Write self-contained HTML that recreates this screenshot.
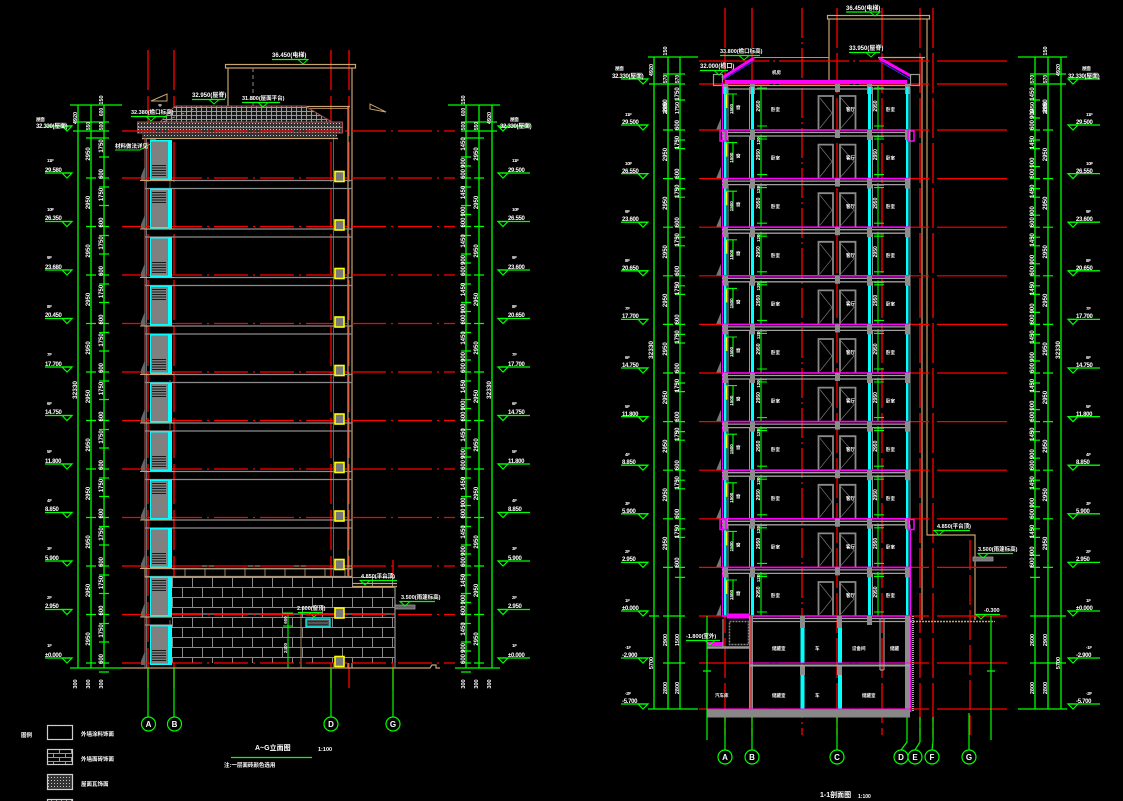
<!DOCTYPE html>
<html><head><meta charset="utf-8"><style>
html,body{margin:0;padding:0;background:#000;}
svg{display:block}
text{font-family:"Liberation Sans","Noto Sans CJK SC",sans-serif;fill:#fff;font-weight:bold}
.lv{font-size:6px;letter-spacing:-0.3px}
.fl{font-size:4.5px}
</style></head><body>
<svg width="1123" height="801" viewBox="0 0 1123 801" xmlns="http://www.w3.org/2000/svg">
<defs>
 <pattern id="brick" width="20" height="20" patternUnits="userSpaceOnUse" x="172" y="577">
  <rect width="20" height="20" fill="#000"/>
  <path d="M0 0.5H20M0 10.5H20M0.5 0V10M10.5 10V20" stroke="#8a8a8a" stroke-width="1" fill="none"/>
 </pattern>
 <pattern id="brick2" width="12" height="8" patternUnits="userSpaceOnUse" x="47" y="749">
  <rect width="12" height="8" fill="#000"/>
  <path d="M0 0.5H12M0 4.5H12M0.5 0V4M6.5 4V8" stroke="#999" stroke-width="1" fill="none"/>
 </pattern>
 <pattern id="dots" width="3" height="3" patternUnits="userSpaceOnUse">
  <rect width="3" height="3" fill="#333"/><rect width="1" height="1" fill="#c8c8c8"/>
 </pattern>
 <pattern id="tile" width="5" height="4" patternUnits="userSpaceOnUse">
  <rect width="5" height="4" fill="#151515"/><path d="M1.5 0V3M0 3.5H5" stroke="#9a9a9a" stroke-width="1"/>
 </pattern>
 <g id="lwb">
  <rect x="150" y="-38" width="22" height="40" fill="#00ffff"/>
  <rect x="151" y="-36.5" width="17" height="37" fill="#808080"/>
  <path d="M152 -12.5H166M152 -10H166M152 -7.5H166M152 -5H166M152 -2.5H166" stroke="#1a1a1a" stroke-width="0.9"/>
  <rect x="335" y="-6.5" width="9" height="10" fill="#777" stroke="#ff0" stroke-width="1.6"/>
  <path d="M141 -2L145 -12V2H141Z" fill="#666"/>
 </g>
 <g id="lwt">
  <rect x="150" y="-38" width="22" height="40" fill="#00ffff"/>
  <rect x="151" y="-36.5" width="17" height="37" fill="#808080"/>
  <path d="M152 -34H166M152 -31.5H166M152 -29H166M152 -26.5H166M152 -24H166" stroke="#1a1a1a" stroke-width="0.9"/>
  <rect x="335" y="-6.5" width="9" height="10" fill="#777" stroke="#ff0" stroke-width="1.6"/>
  <path d="M141 -2L145 -12V2H141Z" fill="#666"/>
 </g>
 <g id="lred"><path d="M122 0H455" stroke="#f00" stroke-width="1.3" stroke-dasharray="34 5 2 5"/></g>
 <g id="lg"><path d="M145 2.5H352M145 10.5H352" stroke="#8c8c8c" stroke-width="1.2"/><path d="M140 2.5H174" stroke="#c8a46e" stroke-width="1"/></g>
 <g id="ldim">
  <path d="M86 0H96M99 0H109M99 -21H109M99 9H109M461 0H471M474 0H484M461 -21H471M461 -12H471M461 9H471" stroke="#0f0" stroke-width="1.2"/>
  <text transform="translate(90,-24) rotate(-90)" text-anchor="middle" font-size="6">2950</text>
  <text transform="translate(103,-32) rotate(-90)" text-anchor="middle" font-size="6">1750</text>
  <text transform="translate(103,-4) rotate(-90)" text-anchor="middle" font-size="6">600</text>
  <text transform="translate(465,-34) rotate(-90)" text-anchor="middle" font-size="6">1450</text>
  <text transform="translate(465,-15) rotate(-90)" text-anchor="middle" font-size="6">900</text>
  <text transform="translate(465,-4) rotate(-90)" text-anchor="middle" font-size="6">600</text>
  <text transform="translate(478,-24) rotate(-90)" text-anchor="middle" font-size="6">2950</text>
 </g>
 <g id="mkL"><path d="M-22 -5H5" stroke="#0f0" stroke-width="1.3"/><path d="M-5 -5L5 -5L0 0Z" fill="none" stroke="#0f0" stroke-width="1.2"/></g>
 <g id="mkR"><path d="M-5 -5H27" stroke="#0f0" stroke-width="1.3"/><path d="M-5 -5L5 -5L0 0Z" fill="none" stroke="#0f0" stroke-width="1.2"/></g>
 <g id="ss">
  <rect x="724" y="-43" width="2.5" height="43" fill="#0ff"/>
  <rect x="751" y="-43" width="3" height="43" fill="#0ff"/>
  <rect x="868" y="-43" width="3" height="43" fill="#0ff"/>
  <rect x="906" y="-43" width="2.5" height="43" fill="#0ff"/>
  <path d="M728 -43V0M749.5 -43V0M872.5 -43V0M910 -43V0" stroke="#999" stroke-width="1"/>
  <path d="M818.5 0V-34H833V0M840 0V-34H855.5V0" stroke="#8a8a8a" stroke-width="1.8" fill="none"/>
  <path d="M820 -32L832 -17L820 -2M841 -32L854 -17L841 -2" stroke="#777" stroke-width="0.7" fill="none"/>
  <path d="M761 -44V0M878 -44V0" stroke="#0f0" stroke-width="1.1"/>
  <path d="M757 -42H767M757 -4H767M874 -42H884M874 -4H884" stroke="#0f0" stroke-width="1.1"/>
  <path d="M726.5 -36V-22" stroke="#ff0" stroke-width="1.5"/>
  <path d="M726 -36H737M733 -36V-16" stroke="#0f0" stroke-width="1.1"/>
  <path d="M716 0L721 -12V0Z" fill="#777"/>
  <path d="M722.5 -48V0" stroke="#f0f" stroke-width="1"/>
  <text transform="translate(760,-24) rotate(-90)" text-anchor="middle" font-size="5">2950</text>
  <text transform="translate(877,-24) rotate(-90)" text-anchor="middle" font-size="5">2950</text>
  <text transform="translate(733,-21) rotate(-90)" text-anchor="middle" font-size="4.5">1500</text>
  <text x="736" y="-21" font-size="4.5">窗</text>
  <text x="771" y="-19" font-size="4.5">卧室</text>
  <text x="846" y="-19" font-size="4.5">客厅</text>
  <text x="886" y="-19" font-size="4.5">卧室</text>
 </g>
 <g id="sl">
  <path d="M699 0H930M937 0H1007" stroke="#f00" stroke-width="1.2" stroke-dasharray="70 4 2 4"/>
  <path d="M722 0H910" stroke="#f0f" stroke-width="1.6"/>
  <path d="M722 2.5H910M722 6H910" stroke="#a0a0a0" stroke-width="1.3"/>
  <path d="M723 0h5v10h-5zM750 0h5v10h-5zM835 0h5v8h-5zM867 0h5v10h-5zM905 0h5v10h-5z" fill="#8c8c8c"/>
  <path d="M757 9H767M874 9H884" stroke="#0f0" stroke-width="1.1"/>
  <text transform="translate(760,11) rotate(-90)" text-anchor="middle" font-size="4.5">120</text>
 </g>
 <g id="sdim">
  <path d="M663 0H673M675 0H685M675 -30H685M675 10H685M1030 0H1040M1030 -30H1040M1030 -12H1040M1030 10H1040M1043 0H1053" stroke="#0f0" stroke-width="1.2"/>
  <text transform="translate(667,-24) rotate(-90)" text-anchor="middle" font-size="6">2950</text>
  <text transform="translate(679,-36) rotate(-90)" text-anchor="middle" font-size="6">1750</text>
  <text transform="translate(679,-5) rotate(-90)" text-anchor="middle" font-size="6">600</text>
  <text transform="translate(1034,-36) rotate(-90)" text-anchor="middle" font-size="6">1450</text>
  <text transform="translate(1034,-16) rotate(-90)" text-anchor="middle" font-size="6">900</text>
  <text transform="translate(1034,-5) rotate(-90)" text-anchor="middle" font-size="6">600</text>
  <text transform="translate(1047,-24) rotate(-90)" text-anchor="middle" font-size="6">2950</text>
 </g>
</defs>

<rect width="1123" height="801" fill="#000"/>

<!-- ================= LEFT ELEVATION ================= -->
<path d="M78 105V668M91 105V668M104 105V668M466 105V668M479 105V668M492 105V668" stroke="#0f0" stroke-width="1.3"/>
<path d="M70 105H122M448 105H500M70 668H122M455 668H500" stroke="#0f0" stroke-width="1.3"/>
<path d="M73 131H109M461 131H497M73 122H109M461 122H497M86 138H109M461 138H484" stroke="#0f0" stroke-width="1.2"/>
<text transform="translate(77,390) rotate(-90)" text-anchor="middle" font-size="6.5">32330</text>
<text transform="translate(491,390) rotate(-90)" text-anchor="middle" font-size="6.5">32330</text>
<text transform="translate(77,118) rotate(-90)" text-anchor="middle" font-size="5.5">4920</text>
<text transform="translate(491,118) rotate(-90)" text-anchor="middle" font-size="5.5">4920</text>
<text transform="translate(103,100) rotate(-90)" text-anchor="middle" font-size="5.5">150</text>
<text transform="translate(465,100) rotate(-90)" text-anchor="middle" font-size="5.5">150</text>
<text transform="translate(90,126) rotate(-90)" text-anchor="middle" font-size="5">550</text>
<text transform="translate(103,126) rotate(-90)" text-anchor="middle" font-size="5">500</text>
<text transform="translate(103,112) rotate(-90)" text-anchor="middle" font-size="5">600</text>
<text transform="translate(478,126) rotate(-90)" text-anchor="middle" font-size="5">550</text>
<text transform="translate(465,126) rotate(-90)" text-anchor="middle" font-size="5">500</text>
<text transform="translate(465,112) rotate(-90)" text-anchor="middle" font-size="5">600</text>
<text transform="translate(77,684) rotate(-90)" text-anchor="middle" font-size="5.5">300</text>
<text transform="translate(90,684) rotate(-90)" text-anchor="middle" font-size="5.5">300</text>
<text transform="translate(103,684) rotate(-90)" text-anchor="middle" font-size="5.5">300</text>
<text transform="translate(465,684) rotate(-90)" text-anchor="middle" font-size="5.5">300</text>
<text transform="translate(478,684) rotate(-90)" text-anchor="middle" font-size="5.5">300</text>
<text transform="translate(491,684) rotate(-90)" text-anchor="middle" font-size="5.5">300</text>
<use href="#ldim" y="178"/><use href="#ldim" y="226.5"/><use href="#ldim" y="275"/><use href="#ldim" y="323.5"/>
<use href="#ldim" y="372"/><use href="#ldim" y="420.5"/><use href="#ldim" y="469"/><use href="#ldim" y="517.5"/>
<use href="#ldim" y="566"/><use href="#ldim" y="614.5"/><use href="#ldim" y="663"/>

<path d="M148 50V690M174 50V690M331 50V690M349 50V690M393 560V690" stroke="#f00" stroke-width="1.3" stroke-dasharray="40 6"/>

<rect x="225.5" y="64.5" width="130" height="3.5" fill="none" stroke="#c8a46e" stroke-width="1.2"/>
<path d="M228 68V106M348 106V668M352 68V668" stroke="#c8a46e" stroke-width="1.2"/>
<path d="M253 68V106" stroke="#888" stroke-width="1" stroke-dasharray="4 3"/>
<path d="M305 106.5H350" stroke="#c8a46e" stroke-width="1.2"/>
<path d="M305 108.5H348" stroke="#c8a46e" stroke-width="0.8"/>
<path d="M333.5 131V668" stroke="#a04848" stroke-width="1"/>
<path d="M170 140V663" stroke="#c8a46e" stroke-width="0.6" stroke-dasharray="10 30"/>

<polygon points="160,122 175,106 305,106 332,122" fill="url(#tile)" stroke="#a05050" stroke-width="1"/>
<rect x="137.5" y="122" width="205" height="11" fill="url(#dots)" stroke="#a05050" stroke-width="1"/>
<path d="M138 127.5H342" stroke="#c8a46e" stroke-width="0.8"/>
<rect x="142" y="133" width="195" height="4.5" fill="url(#dots)"/>
<path d="M142 138.5H338" stroke="#c8a46e" stroke-width="1.2"/>
<path d="M163 122L201 106" stroke="#c8a46e" stroke-width="0.7" stroke-dasharray="3 2"/>
<use href="#lred" y="131"/>
<path d="M145 138V668" stroke="#a05050" stroke-width="1.2"/>
<path d="M146.5 138V668" stroke="#888" stroke-width="0.8"/>
<rect x="150" y="139" width="6" height="6" fill="#f0f"/>
<path d="M115 150H140L152 143" stroke="#0f0" stroke-width="1" fill="none"/>
<text x="115" y="148" font-size="5.5">材料做法详见</text>
<path d="M151 101L167 94V101Z" fill="none" stroke="#c8a46e" stroke-width="1"/>
<path d="M158 105H162M160 104V107" stroke="#fff" stroke-width="0.8"/>
<path d="M370 104V109L386 112Z" fill="none" stroke="#c8a46e" stroke-width="1"/>
<path d="M272 59.5H307" stroke="#0f0" stroke-width="1.2"/><path d="M298 59.5L308 59.5L303 64Z" fill="none" stroke="#0f0"/>
<text x="272" y="57" font-size="6">36.450(电梯)</text>
<path d="M192 99.5H225" stroke="#0f0" stroke-width="1.2"/><path d="M209 99.5L219 99.5L214 104Z" fill="none" stroke="#0f0"/>
<text x="192" y="97" font-size="6">32.950(屋脊)</text>
<path d="M242 102.5H280" stroke="#0f0" stroke-width="1.2"/><path d="M258 102.5L268 102.5L263 107Z" fill="none" stroke="#0f0"/>
<text x="242" y="100" font-size="5.5">31.800(屋面平台)</text>
<path d="M131 116.5H167" stroke="#0f0" stroke-width="1.2"/><path d="M146 116.5L156 116.5L151 121Z" fill="none" stroke="#0f0"/>
<text x="131" y="114" font-size="5.5">32.380(檐口标高)</text>

<use href="#lg" y="178"/><use href="#lg" y="226.5"/><use href="#lg" y="275"/><use href="#lg" y="323.5"/>
<use href="#lg" y="372"/><use href="#lg" y="420.5"/><use href="#lg" y="469"/><use href="#lg" y="517.5"/>
<use href="#lg" y="566"/><use href="#lg" y="614.5"/>

<rect x="172" y="577" width="223" height="86" fill="url(#brick)"/>
<rect x="145" y="566" width="207" height="11" fill="none" stroke="#c8a46e" stroke-width="1"/>
<path d="M172 569H352M185 569V577M205 569V577M225 569V577M245 569V577M265 569V577M285 569V577M305 569V577M325 569V577M345 569V577" stroke="#c8a46e" stroke-width="0.8"/>
<path d="M352 583.5H397M352 586.5H397" stroke="#c8a46e" stroke-width="1.2"/>
<path d="M395 586V663" stroke="#888" stroke-width="1.3"/>
<rect x="395" y="605" width="20" height="4" fill="#666" stroke="#999" stroke-width="0.8"/>
<path d="M172 614H395" stroke="#888" stroke-width="1.2"/>
<rect x="306" y="619" width="24" height="8" fill="#555" stroke="#0ff" stroke-width="1.3"/>
<path d="M308 621.5H328M308 624.5H328" stroke="#222" stroke-width="0.8"/>
<path d="M298 612.5H322" stroke="#0f0" stroke-width="1.2"/><path d="M309 612.5L319 612.5L314 617Z" fill="none" stroke="#0f0"/>
<text x="297" y="610" font-size="5.5">2.600(窗顶)</text>
<path d="M288 613V668M283 613H293M283 626H293M283 668H293" stroke="#0f0" stroke-width="1.1"/>
<text transform="translate(287,620) rotate(-90)" text-anchor="middle" font-size="4.5">600</text>
<text transform="translate(287,648) rotate(-90)" text-anchor="middle" font-size="4.5">2400</text>
<path d="M301 613V668" stroke="#c8a46e" stroke-width="0.8"/>
<path d="M360 580.5H397" stroke="#0f0" stroke-width="1.2"/><path d="M360 580.5L370 580.5L365 585Z" fill="none" stroke="#0f0"/>
<text x="361" y="578" font-size="5.5">4.850(平台顶)</text>
<path d="M400 601.5H435" stroke="#0f0" stroke-width="1.2"/><path d="M400 601.5L410 601.5L405 606Z" fill="none" stroke="#0f0"/>
<text x="401" y="599" font-size="5.5">3.500(雨篷标高)</text>

<use href="#lred" y="178"/><use href="#lred" y="226.5"/><use href="#lred" y="275"/><use href="#lred" y="323.5"/>
<use href="#lred" y="372"/><use href="#lred" y="420.5"/><use href="#lred" y="469"/><use href="#lred" y="517.5"/>
<use href="#lred" y="566"/><use href="#lred" y="614.5"/><use href="#lred" y="663"/>
<use href="#lwb" y="178"/><use href="#lwt" y="226.5"/><use href="#lwb" y="275"/><use href="#lwt" y="323.5"/>
<use href="#lwb" y="372"/><use href="#lwt" y="420.5"/><use href="#lwb" y="469"/><use href="#lwt" y="517.5"/>
<use href="#lwb" y="566"/><use href="#lwt" y="614.5"/><use href="#lwb" y="663"/>

<path d="M122 668H430L432 665H436V668H440" stroke="#c8a46e" stroke-width="1.2" fill="none"/>
<path d="M395 663V668" stroke="#888"/>

<g class="lv">
<use href="#mkL" x="67" y="131"/><text class="fl" x="36" y="121">屋面</text><text x="36" y="128">32.330(屋面)</text>
<use href="#mkL" x="67" y="178"/><text class="fl" x="47" y="162">11F</text><text x="45" y="172">29.580</text>
<use href="#mkL" x="67" y="226.5"/><text class="fl" x="47" y="211">10F</text><text x="45" y="220">26.350</text>
<use href="#mkL" x="67" y="275"/><text class="fl" x="47" y="259">9F</text><text x="45" y="269">23.680</text>
<use href="#mkL" x="67" y="323.5"/><text class="fl" x="47" y="308">8F</text><text x="45" y="317">20.450</text>
<use href="#mkL" x="67" y="372"/><text class="fl" x="47" y="356">7F</text><text x="45" y="366">17.700</text>
<use href="#mkL" x="67" y="420.5"/><text class="fl" x="47" y="405">6F</text><text x="45" y="414">14.750</text>
<use href="#mkL" x="67" y="469"/><text class="fl" x="47" y="453">5F</text><text x="45" y="463">11.800</text>
<use href="#mkL" x="67" y="517.5"/><text class="fl" x="47" y="502">4F</text><text x="45" y="511">8.850</text>
<use href="#mkL" x="67" y="566"/><text class="fl" x="47" y="550">3F</text><text x="45" y="560">5.900</text>
<use href="#mkL" x="67" y="614.5"/><text class="fl" x="47" y="599">2F</text><text x="45" y="608">2.950</text>
<use href="#mkL" x="67" y="663"/><text class="fl" x="47" y="647">1F</text><text x="45" y="657">±0.000</text>
<use href="#mkR" x="503" y="131"/><text class="fl" x="510" y="121">屋面</text><text x="500" y="128">32.330(屋面)</text>
<use href="#mkR" x="503" y="178"/><text class="fl" x="512" y="162">11F</text><text x="508" y="172">29.500</text>
<use href="#mkR" x="503" y="226.5"/><text class="fl" x="512" y="211">10F</text><text x="508" y="220">26.550</text>
<use href="#mkR" x="503" y="275"/><text class="fl" x="512" y="259">9F</text><text x="508" y="269">23.600</text>
<use href="#mkR" x="503" y="323.5"/><text class="fl" x="512" y="308">8F</text><text x="508" y="317">20.650</text>
<use href="#mkR" x="503" y="372"/><text class="fl" x="512" y="356">7F</text><text x="508" y="366">17.700</text>
<use href="#mkR" x="503" y="420.5"/><text class="fl" x="512" y="405">6F</text><text x="508" y="414">14.750</text>
<use href="#mkR" x="503" y="469"/><text class="fl" x="512" y="453">5F</text><text x="508" y="463">11.800</text>
<use href="#mkR" x="503" y="517.5"/><text class="fl" x="512" y="502">4F</text><text x="508" y="511">8.850</text>
<use href="#mkR" x="503" y="566"/><text class="fl" x="512" y="550">3F</text><text x="508" y="560">5.900</text>
<use href="#mkR" x="503" y="614.5"/><text class="fl" x="512" y="599">2F</text><text x="508" y="608">2.950</text>
<use href="#mkR" x="503" y="663"/><text class="fl" x="512" y="647">1F</text><text x="508" y="657">±0.000</text>
</g>

<path d="M148 668V717M174 668V717M331 668V717M393 668V717" stroke="#0f0" stroke-width="1.2"/>
<g fill="none" stroke="#0f0" stroke-width="1.2">
<circle cx="148.5" cy="724" r="7"/><circle cx="174.5" cy="724" r="7"/><circle cx="331" cy="724" r="7"/><circle cx="393" cy="724" r="7"/>
</g>
<g font-size="8" font-weight="normal" text-anchor="middle">
<text x="148.5" y="727">A</text><text x="174.5" y="727">B</text><text x="331" y="727">D</text><text x="393" y="727">G</text>
</g>
<text x="255" y="750" font-size="7">A~G立面图</text>
<text x="318" y="751" font-size="5.5">1:100</text>
<path d="M231 757.5H312" stroke="#0f0" stroke-width="1.2"/>
<text x="224" y="767" font-size="5.5">注:一层面砖颜色选用</text>

<text x="21" y="737" font-size="5.5">图例</text>
<rect x="47.5" y="725.5" width="25" height="14" fill="none" stroke="#ccc" stroke-width="1.2"/>
<rect x="47.5" y="749.5" width="25" height="15" fill="url(#brick2)" stroke="#ccc" stroke-width="1.2"/>
<rect x="47.5" y="774.5" width="25" height="15" fill="url(#dots)" stroke="#ccc" stroke-width="1.2"/>
<rect x="47.5" y="799.5" width="25" height="5" fill="url(#tile)" stroke="#ccc" stroke-width="1.2"/>
<text x="81" y="736" font-size="5.5">外墙涂料饰面</text>
<text x="81" y="761" font-size="5.5">外墙面砖饰面</text>
<text x="81" y="786" font-size="5.5">屋面瓦饰面</text>

<!-- ================= SECTION 1-1 ================= -->
<path d="M654 57V709M668 57V709M680 57V709M1035 57V709M1048 57V709M1061 57V709" stroke="#0f0" stroke-width="1.3"/>
<path d="M648 57H698M1018 57H1067M648 709H698M1018 709H1067" stroke="#0f0" stroke-width="1.3"/>
<path d="M649 84H685M1030 84H1066M663 74H685M1030 74H1066M663 663H685M1030 663H1066M663 616H685M1030 616H1066M649 616H659M1056 616H1066" stroke="#0f0" stroke-width="1.2"/>
<text transform="translate(653,70) rotate(-90)" text-anchor="middle" font-size="5.5">4920</text>
<text transform="translate(1060,70) rotate(-90)" text-anchor="middle" font-size="5.5">4920</text>
<text transform="translate(653,350) rotate(-90)" text-anchor="middle" font-size="6.5">32330</text>
<text transform="translate(1060,350) rotate(-90)" text-anchor="middle" font-size="6.5">32330</text>
<text transform="translate(653,663) rotate(-90)" text-anchor="middle" font-size="5.5">5700</text>
<text transform="translate(1060,663) rotate(-90)" text-anchor="middle" font-size="5.5">5700</text>
<text transform="translate(667,108) rotate(-90)" text-anchor="middle" font-size="5.5">2800</text>
<text transform="translate(679,108) rotate(-90)" text-anchor="middle" font-size="5.5">1750</text>
<text transform="translate(1047,108) rotate(-90)" text-anchor="middle" font-size="5.5">2800</text>
<text transform="translate(1034,108) rotate(-90)" text-anchor="middle" font-size="5.5">1450</text>
<text transform="translate(667,51) rotate(-90)" text-anchor="middle" font-size="5.5">150</text>
<text transform="translate(1047,51) rotate(-90)" text-anchor="middle" font-size="5.5">150</text>
<text transform="translate(667,79) rotate(-90)" text-anchor="middle" font-size="5">570</text>
<text transform="translate(679,79) rotate(-90)" text-anchor="middle" font-size="5">570</text>
<text transform="translate(1047,79) rotate(-90)" text-anchor="middle" font-size="5">570</text>
<text transform="translate(1034,79) rotate(-90)" text-anchor="middle" font-size="5">570</text>
<text transform="translate(667,640) rotate(-90)" text-anchor="middle" font-size="5.5">2900</text>
<text transform="translate(679,640) rotate(-90)" text-anchor="middle" font-size="5.5">1500</text>
<text transform="translate(667,688) rotate(-90)" text-anchor="middle" font-size="5.5">2800</text>
<text transform="translate(679,688) rotate(-90)" text-anchor="middle" font-size="5.5">2800</text>
<text transform="translate(1047,640) rotate(-90)" text-anchor="middle" font-size="5.5">2900</text>
<text transform="translate(1034,640) rotate(-90)" text-anchor="middle" font-size="5.5">2600</text>
<text transform="translate(1047,688) rotate(-90)" text-anchor="middle" font-size="5.5">2800</text>
<text transform="translate(1034,688) rotate(-90)" text-anchor="middle" font-size="5.5">2800</text>
<use href="#sdim" y="130"/><use href="#sdim" y="178.6"/><use href="#sdim" y="227.2"/><use href="#sdim" y="275.8"/>
<use href="#sdim" y="324.4"/><use href="#sdim" y="373"/><use href="#sdim" y="421.6"/><use href="#sdim" y="470.2"/>
<use href="#sdim" y="518.8"/><use href="#sdim" y="567.4"/>

<path d="M725 8V735M752 8V735M837 8V735M882 8V735M920 8V735M933 8V735" stroke="#f00" stroke-width="1.3" stroke-dasharray="40 5"/>
<path d="M802 8V735" stroke="#f00" stroke-width="1.3" stroke-dasharray="30 4 2 4"/>
<path d="M970 540V735" stroke="#f00" stroke-width="1.3" stroke-dasharray="30 5"/>

<rect x="827.5" y="15.5" width="102" height="3.5" fill="none" stroke="#c8a46e" stroke-width="1.2"/>
<path d="M829 19V80M927 19V535H975V620M922 57V620" stroke="#c8a46e" stroke-width="1.2" fill="none"/>
<path d="M878 57.5H925" stroke="#c8a46e" stroke-width="1.2"/>
<path d="M754 57.5H829" stroke="#999" stroke-width="1"/>
<path d="M699 61H930M937 61H1007" stroke="#f00" stroke-width="1.2" stroke-dasharray="70 4 2 4"/>
<path d="M699 84H930M937 84H1007" stroke="#f00" stroke-width="1.2" stroke-dasharray="70 4 2 4"/>
<rect x="725" y="80" width="182" height="4" fill="#f0f"/>
<path d="M722 85.5H910M722 89H910" stroke="#a0a0a0" stroke-width="1.3"/>
<path d="M723 84h5v10h-5zM750 84h5v10h-5zM835 84h5v8h-5zM867 84h5v10h-5zM905 84h5v10h-5z" fill="#8c8c8c"/>
<path d="M722 78L754 58" stroke="#f0f" stroke-width="3"/>
<path d="M723 80L754 61" stroke="#33f" stroke-width="1"/>
<path d="M879 58L911 76" stroke="#f0f" stroke-width="3"/>
<path d="M879 61L910 79" stroke="#33f" stroke-width="1"/>
<rect x="713.5" y="74.5" width="9" height="11" fill="none" stroke="#999" stroke-width="1.2"/>
<rect x="910.5" y="74.5" width="9" height="11" fill="none" stroke="#999" stroke-width="1.2"/>
<text x="772" y="74" font-size="4.5">机房</text>
<path d="M846 12H880" stroke="#0f0" stroke-width="1.2"/><path d="M870 12L880 12L875 16Z" fill="none" stroke="#0f0"/>
<text x="846" y="10" font-size="6">36.450(电梯)</text>
<path d="M720 55.5H760" stroke="#0f0" stroke-width="1.2"/><path d="M739 55.5L749 55.5L744 60Z" fill="none" stroke="#0f0"/>
<text x="720" y="53" font-size="5.5">33.800(檐口标高)</text>
<path d="M849 52.5H880" stroke="#0f0" stroke-width="1.2"/><path d="M866 52.5L876 52.5L871 57Z" fill="none" stroke="#0f0"/>
<text x="849" y="50" font-size="6">33.950(屋脊)</text>
<path d="M700 70.5H728" stroke="#0f0" stroke-width="1.2"/><path d="M714 70.5L724 70.5L719 75Z" fill="none" stroke="#0f0"/>
<text x="700" y="68" font-size="6">32.000(檐口)</text>

<use href="#ss" y="130"/><use href="#ss" y="178.6"/><use href="#ss" y="227.2"/><use href="#ss" y="275.8"/>
<use href="#ss" y="324.4"/><use href="#ss" y="373"/><use href="#ss" y="421.6"/><use href="#ss" y="470.2"/>
<use href="#ss" y="518.8"/><use href="#ss" y="567.4"/><use href="#ss" y="616"/>
<use href="#sl" y="130"/><use href="#sl" y="178.6"/><use href="#sl" y="227.2"/><use href="#sl" y="275.8"/>
<use href="#sl" y="324.4"/><use href="#sl" y="373"/><use href="#sl" y="421.6"/><use href="#sl" y="470.2"/>
<use href="#sl" y="518.8"/><use href="#sl" y="567.4"/>
<path d="M720 131h6v10h-6zM720 519.5h6v10h-6zM908 131h6v10h-6zM908 519.5h6v10h-6z" fill="none" stroke="#f0f" stroke-width="1.5"/>
<path d="M910 88V518" stroke="#999" stroke-width="1"/>
<path d="M910.5 529V712" stroke="#f0f" stroke-width="1.5"/>

<!-- ground floor slab & basement -->
<path d="M699 616H930M937 616H1007" stroke="#f00" stroke-width="1.2" stroke-dasharray="70 4 2 4"/>
<path d="M699 663H930M937 663H1007" stroke="#f00" stroke-width="1.2" stroke-dasharray="70 4 2 4"/>
<path d="M699 709H930M937 709H1007" stroke="#f00" stroke-width="1.2" stroke-dasharray="70 4 2 4"/>
<path d="M722 616H910" stroke="#f0f" stroke-width="1.6"/>
<rect x="727" y="613.5" width="23" height="5" fill="#f0f"/>
<path d="M750 618.5H910M750 621.5H910" stroke="#a0a0a0" stroke-width="1.3"/>
<rect x="729.5" y="621.5" width="19" height="23" fill="none" stroke="#888" stroke-width="1.5" stroke-dasharray="2 1"/>
<rect x="707" y="642" width="16" height="4" fill="#f0f"/>
<path d="M707 647.5H752" stroke="#999" stroke-width="2.5"/>
<path d="M723 619V647" stroke="#999" stroke-width="1.2"/>
<rect x="749" y="616" width="4" height="93" fill="#8c8c8c"/>
<path d="M751 616V709" stroke="#f00" stroke-width="1"/>
<rect x="800" y="616" width="5" height="12" fill="#8c8c8c"/><rect x="800.5" y="628" width="4" height="35" fill="#0ff"/>
<rect x="800" y="666" width="5" height="9" fill="#8c8c8c"/><rect x="800.5" y="675" width="4" height="34" fill="#0ff"/>
<rect x="837" y="616" width="5" height="12" fill="#8c8c8c"/><rect x="838" y="628" width="4" height="35" fill="#0ff"/>
<rect x="837" y="666" width="5" height="9" fill="#8c8c8c"/><rect x="838" y="675" width="4" height="34" fill="#0ff"/>
<rect x="867" y="616" width="5" height="9" fill="#8c8c8c"/>
<path d="M880 618V670M884 618V670M880 670H884" stroke="#999" stroke-width="1.2" fill="none"/>
<rect x="905" y="616" width="5" height="93" fill="#8c8c8c"/>
<path d="M913 616V712" stroke="#aaa" stroke-width="2" stroke-dasharray="1 1"/>
<path d="M750 663H910" stroke="#f0f" stroke-width="1"/>
<path d="M750 665.5H910" stroke="#a0a0a0" stroke-width="2"/>
<rect x="707" y="709.5" width="203" height="8" fill="#888"/>
<path d="M707 709H910" stroke="#f0f" stroke-width="1"/>
<path d="M910 621.5H995" stroke="#c8a46e" stroke-width="1.5" stroke-dasharray="2 1"/>
<path d="M707 616V740M991 616V740M703 671H711M987 671H995" stroke="#0f0" stroke-width="1.2"/>
<g font-size="4.5">
<text x="772" y="650">储藏室</text><text x="815" y="650">车</text><text x="852" y="650">设备间</text><text x="890" y="650">储藏</text>
<text x="715" y="697">汽车库</text><text x="772" y="697">储藏室</text><text x="815" y="697">车</text><text x="862" y="697">储藏室</text>
</g>
<path d="M686 640.5H720" stroke="#0f0" stroke-width="1.2"/><path d="M705 640.5L715 640.5L710 645Z" fill="none" stroke="#0f0"/>
<text x="686" y="638" font-size="5.5">-1.800(室外)</text>
<path d="M976 614.5H1000" stroke="#0f0" stroke-width="1.2"/><path d="M976 614.5L986 614.5L981 619Z" fill="none" stroke="#0f0"/>
<text x="984" y="612" font-size="5.5">-0.300</text>
<path d="M934 530.5H970" stroke="#0f0" stroke-width="1.2"/><path d="M934 530.5L944 530.5L939 535Z" fill="none" stroke="#0f0"/>
<text x="937" y="528" font-size="5.5">4.850(平台顶)</text>
<rect x="973" y="557" width="20" height="4" fill="#777" stroke="#999" stroke-width="0.8"/>
<path d="M978 553.5H1013" stroke="#0f0" stroke-width="1.2"/><path d="M978 553.5L988 553.5L983 558Z" fill="none" stroke="#0f0"/>
<text x="978" y="551" font-size="5.5">3.500(雨篷标高)</text>

<g class="lv">
<use href="#mkL" x="643" y="84"/><text class="fl" x="615" y="70">屋面</text><text x="612" y="78">32.330(屋面)</text>
<use href="#mkL" x="643" y="130"/><text class="fl" x="625" y="116">11F</text><text x="622" y="124">29.500</text>
<use href="#mkL" x="643" y="178.6"/><text class="fl" x="625" y="165">10F</text><text x="622" y="173">26.550</text>
<use href="#mkL" x="643" y="227.2"/><text class="fl" x="625" y="213">9F</text><text x="622" y="221">23.600</text>
<use href="#mkL" x="643" y="275.8"/><text class="fl" x="625" y="262">8F</text><text x="622" y="270">20.650</text>
<use href="#mkL" x="643" y="324.4"/><text class="fl" x="625" y="310">7F</text><text x="622" y="318">17.700</text>
<use href="#mkL" x="643" y="373"/><text class="fl" x="625" y="359">6F</text><text x="622" y="367">14.750</text>
<use href="#mkL" x="643" y="421.6"/><text class="fl" x="625" y="408">5F</text><text x="622" y="416">11.800</text>
<use href="#mkL" x="643" y="470.2"/><text class="fl" x="625" y="456">4F</text><text x="622" y="464">8.850</text>
<use href="#mkL" x="643" y="518.8"/><text class="fl" x="625" y="505">3F</text><text x="622" y="513">5.900</text>
<use href="#mkL" x="643" y="567.4"/><text class="fl" x="625" y="553">2F</text><text x="622" y="561">2.950</text>
<use href="#mkL" x="643" y="616"/><text class="fl" x="625" y="602">1F</text><text x="622" y="610">±0.000</text>
<use href="#mkL" x="643" y="663"/><text class="fl" x="625" y="649">-1F</text><text x="622" y="657">-2.900</text>
<use href="#mkL" x="643" y="709"/><text class="fl" x="625" y="695">-2F</text><text x="622" y="703">-5.700</text>
<use href="#mkR" x="1073" y="84"/><text class="fl" x="1082" y="70">屋面</text><text x="1068" y="78">32.330(屋面)</text>
<use href="#mkR" x="1073" y="130"/><text class="fl" x="1086" y="116">11F</text><text x="1076" y="124">29.500</text>
<use href="#mkR" x="1073" y="178.6"/><text class="fl" x="1086" y="165">10F</text><text x="1076" y="173">26.550</text>
<use href="#mkR" x="1073" y="227.2"/><text class="fl" x="1086" y="213">9F</text><text x="1076" y="221">23.600</text>
<use href="#mkR" x="1073" y="275.8"/><text class="fl" x="1086" y="262">8F</text><text x="1076" y="270">20.650</text>
<use href="#mkR" x="1073" y="324.4"/><text class="fl" x="1086" y="310">7F</text><text x="1076" y="318">17.700</text>
<use href="#mkR" x="1073" y="373"/><text class="fl" x="1086" y="359">6F</text><text x="1076" y="367">14.750</text>
<use href="#mkR" x="1073" y="421.6"/><text class="fl" x="1086" y="408">5F</text><text x="1076" y="416">11.800</text>
<use href="#mkR" x="1073" y="470.2"/><text class="fl" x="1086" y="456">4F</text><text x="1076" y="464">8.850</text>
<use href="#mkR" x="1073" y="518.8"/><text class="fl" x="1086" y="505">3F</text><text x="1076" y="513">5.900</text>
<use href="#mkR" x="1073" y="567.4"/><text class="fl" x="1086" y="553">2F</text><text x="1076" y="561">2.950</text>
<use href="#mkR" x="1073" y="616"/><text class="fl" x="1086" y="602">1F</text><text x="1076" y="610">±0.000</text>
<use href="#mkR" x="1073" y="663"/><text class="fl" x="1086" y="649">-1F</text><text x="1076" y="657">-2.900</text>
<use href="#mkR" x="1073" y="709"/><text class="fl" x="1086" y="695">-2F</text><text x="1076" y="703">-5.700</text>
</g>

<path d="M725 717V750M752 717V750M837 717V750M969 713V750M907 717V742L901 750M920 717V742L915 750M933 717V742L932 750" stroke="#0f0" stroke-width="1.2" fill="none"/>
<g fill="none" stroke="#0f0" stroke-width="1.2">
<circle cx="725" cy="757" r="7"/><circle cx="752" cy="757" r="7"/><circle cx="837" cy="757" r="7"/>
<circle cx="901" cy="757" r="7"/><circle cx="915" cy="757" r="7"/><circle cx="932" cy="757" r="7"/><circle cx="969" cy="757" r="7"/>
</g>
<g font-size="8" font-weight="normal" text-anchor="middle">
<text x="725" y="760">A</text><text x="752" y="760">B</text><text x="837" y="760">C</text>
<text x="901" y="760">D</text><text x="915" y="760">E</text><text x="932" y="760">F</text><text x="969" y="760">G</text>
</g>
<text x="820" y="797" font-size="7">1-1剖面图</text>
<text x="858" y="798" font-size="5">1:100</text>
</svg>
</body></html>
